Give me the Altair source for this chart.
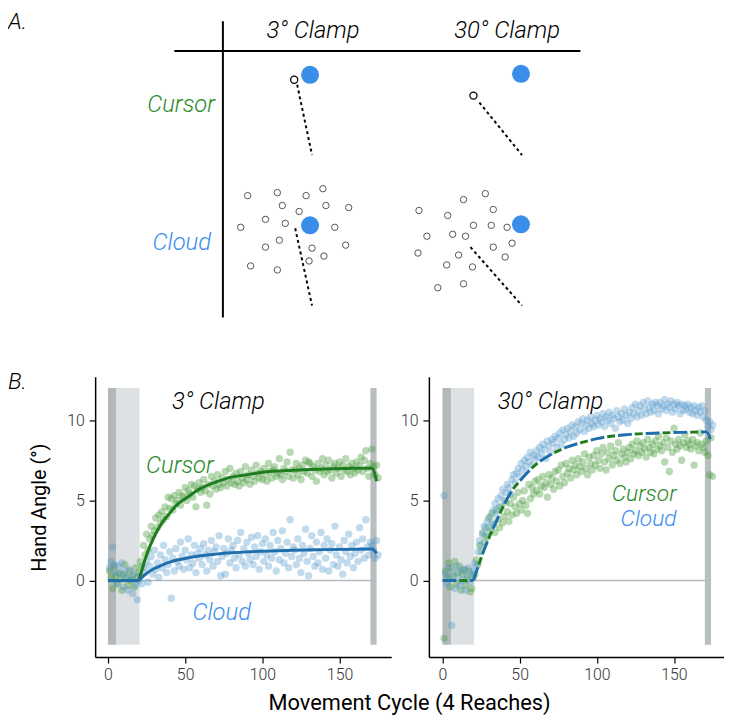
import altair as alt
import pandas as pd

FONT = "Roboto"

# ---------------- Panel B data (hand angle per movement cycle) ----------------
cycles = list(range(1, 176))

cursor3 = [0.6, 0.2, -0.5, 0.9, 0.3, -0.2, 0.5, 0.1, -0.6, 0.4, 1.0, 0.2, -0.3, 0.6, 0.0, 0.3, -0.4, 0.8, 0.2, 0.5,
           1.2, 0.9, 2.2, 1.6, 2.9, 1.9, 2.6, 3.4, 2.8, 3.1, 3.9, 3.3, 4.1, 3.6, 4.3, 3.8, 4.6, 4.0, 5.2, 4.5,
           5.1, 4.4, 5.3, 4.8, 5.0, 5.5, 4.7, 5.3, 5.2, 5.8, 5.0, 5.6, 5.4, 6.0, 5.2, 5.9, 4.6, 5.7, 6.1, 5.5,
           5.8, 6.3, 5.6, 4.7, 6.0, 5.4, 6.5, 5.9, 6.2, 5.7, 6.6, 6.0, 5.8, 6.4, 6.1, 6.8, 5.9, 6.3, 7.0, 6.1,
           6.5, 6.0, 6.7, 6.2, 5.9, 6.8, 6.4, 6.1, 7.1, 6.3, 6.6, 6.0, 6.9, 6.5, 6.2, 7.2, 6.7, 6.4, 6.8, 6.3,
           7.0, 6.6, 6.2, 7.3, 6.8, 6.4, 6.9, 7.1, 6.5, 6.7, 7.6, 6.6, 6.3, 7.0, 6.8, 7.4, 6.5, 8.0, 6.9, 6.4,
           6.9, 7.3, 6.6, 7.0, 6.3, 7.2, 6.8, 7.5, 6.7, 7.4, 7.3, 6.5, 7.1, 6.9, 6.2, 7.3, 6.8, 7.0, 7.6, 6.6,
           7.2, 6.8, 7.5, 6.9, 6.4, 7.1, 7.3, 6.7, 7.0, 7.4, 6.5, 7.2, 6.9, 7.6, 6.8, 7.1, 6.6, 7.3, 7.0, 6.7,
           7.4, 6.9, 7.2, 7.7, 6.8, 7.5, 8.1, 7.0, 6.5, 7.3, 8.2, 7.1, 6.6, 7.2, 6.4]

cloud3 = [0.8, 1.2, 2.1, 1.0, 0.5, -0.2, 0.9, 0.4, 1.1, -0.4, 0.6, 0.2, -0.6, 0.7, 0.1, -0.8, 0.4, -0.3, -1.2, 0.0,
          0.3, -0.2, 0.8, 0.5, 1.2, -0.1, 0.9, 1.5, 0.4, 1.9, 0.7, 1.1, 0.2, 1.6, 0.8, 2.2, 1.3, 0.5, 1.0, 1.8,
          -1.1, 1.4, 0.6, 2.0, 1.2, 0.9, 2.4, 1.5, 0.7, 1.9, 1.3, 2.6, 0.8, 1.6, 1.1, 2.2, 0.5, 1.7, 1.4, 2.0,
          1.0, 2.3, 1.6, 0.6, 1.9, 1.3, 2.5, 0.9, 1.8, 2.1, 1.2, 2.8, 0.3, 1.5, 2.0, 0.4, 1.7, 2.6, 1.1, 1.9,
          2.2, 1.4, 0.8, 2.5, 1.6, 3.0, 1.2, 2.0, 0.9, 2.4, 1.7, 1.3, 2.7, 1.0, 2.1, 1.5, 2.8, 0.7, 1.8, 2.3,
          1.2, 2.6, 1.6, 0.9, 2.2, 1.4, 3.0, 1.8, 0.6, 2.5, 1.3, 2.0, 3.1, 1.1, 1.7, 2.4, 0.8, 3.8, 1.5, 2.1,
          1.9, 1.0, 2.6, 1.4, 0.5, 2.2, 1.7, 3.2, 1.2, 0.3, 2.0, 2.8, 1.5, 0.9, 2.4, 1.1, 1.8, 3.0, 0.7, 2.2,
          1.4, 2.6, 0.6, 1.9, 2.3, 1.0, 3.4, 1.6, 0.9, 2.1, 1.3, 0.4, 2.5, 1.8, 1.1, 2.9, 1.5, 2.2, 0.8, 1.7,
          2.4, 1.2, 3.3, 1.9, 2.6, 1.4, 3.8, 2.1, 1.6, 2.4, 2.2, 1.9, 1.4, 2.5, 1.6]

cursor30 = [-3.6, 0.6, 0.2, 1.1, -0.4, 0.8, 0.3, 1.2, -0.2, 0.5, 0.9, -0.6, 0.4, 0.7, -0.3, 0.1, 0.6, -0.7, -0.5, 0.2,
            0.4, 1.3, 1.0, 2.2, 1.8, 2.9, 2.4, 3.3, 2.7, 3.9, 3.1, 4.2, 3.5, 3.0, 4.4, 3.8, 3.3, 4.6, 3.6, 4.0,
            4.9, 4.3, 3.7, 4.8, 4.1, 5.2, 4.6, 4.2, 5.5, 4.8, 4.4, 5.0, 5.6, 4.7, 4.2, 6.0, 5.1, 5.8, 5.4, 6.2,
            5.6, 6.3, 5.4, 5.9, 6.5, 5.8, 6.1, 5.2, 6.6, 6.0, 6.4, 5.7, 6.8, 6.2, 6.9, 5.9, 7.2, 6.5, 6.1, 7.3,
            6.7, 7.0, 6.4, 7.5, 6.9, 7.2, 6.6, 7.6, 7.1, 6.8, 7.4, 7.9, 7.0, 6.6, 7.7, 7.3, 6.9, 7.8, 7.2, 8.1,
            7.5, 7.0, 7.9, 8.3, 7.4, 6.9, 8.0, 7.6, 8.4, 7.2, 7.8, 8.1, 7.5, 8.6, 7.3, 7.9, 8.2, 7.7, 7.4, 8.0,
            8.3, 7.6, 8.5, 7.9, 8.1, 8.7, 7.8, 8.4, 8.0, 8.6, 8.2, 7.7, 8.8, 8.3, 8.0, 8.5, 7.9, 8.7, 8.2, 9.0,
            8.4, 8.1, 8.6, 7.4, 8.9, 8.3, 6.8, 8.7, 8.0, 9.5, 8.5, 8.2, 8.8, 8.4, 7.5, 8.6, 9.1, 8.3, 8.7, 8.5,
            8.2, 8.8, 7.2, 8.4, 8.6, 8.1, 9.2, 8.5, 8.3, 8.0, 8.7, 7.8, 6.6, 8.9, 6.5]

cloud30 = [5.3, 0.4, -0.2, 0.8, 0.1, -2.8, 0.5, -0.5, 0.9, 0.2, -0.3, 0.6, 0.0, 0.7, -0.6, 0.3, 0.8, -0.1, 0.4, 0.6,
           1.1, 0.9, 1.8, 2.5, 2.2, 3.0, 3.4, 2.8, 3.7, 3.3, 4.0, 3.6, 4.4, 4.8, 4.2, 5.1, 4.6, 5.3, 5.7, 5.0,
           5.5, 6.0, 5.8, 5.4, 6.3, 6.6, 6.1, 6.7, 7.0, 6.5, 7.3, 6.9, 7.5, 7.1, 7.7, 7.4, 8.0, 7.2, 7.8, 7.6,
           8.1, 7.7, 8.3, 7.9, 8.5, 8.2, 7.6, 8.7, 8.4, 8.0, 8.8, 8.6, 9.0, 8.3, 8.9, 9.2, 8.5, 9.4, 8.8, 9.1,
           9.5, 8.9, 9.3, 9.7, 9.0, 9.6, 9.2, 9.9, 9.4, 9.8, 10.1, 9.3, 9.7, 10.0, 9.5, 10.2, 9.8, 9.6, 10.0, 10.3,
           9.7, 10.1, 9.9, 10.4, 9.6, 10.2, 10.0, 10.5, 9.8, 10.3, 10.1, 9.5, 10.6, 10.2, 9.9, 10.4, 10.0, 10.7, 10.3, 9.8,
           10.5, 10.1, 10.8, 10.4, 11.0, 10.2, 10.6, 10.9, 10.3, 11.1, 10.7, 10.4, 11.2, 10.8, 10.5, 11.0, 10.6, 11.1, 10.9, 10.4,
           11.1, 10.7, 10.9, 11.3, 10.6, 11.0, 10.8, 11.2, 10.5, 11.0, 10.7, 11.1, 10.9, 10.4, 11.0, 10.6, 10.9, 10.7, 11.0, 10.5,
           10.8, 10.4, 10.9, 10.6, 10.3, 10.8, 10.5, 10.9, 10.2, 10.6, 10.0, 9.6, 9.9, 9.4, 9.7]

# fitted curves (read at sample cycles)
fit_x = [20, 25, 30, 35, 40, 45, 50, 60, 70, 80, 90, 100, 120, 140, 160, 171, 174]
fit_cursor3 = [0, 1.6, 2.75, 3.6, 4.2, 4.75, 5.1, 5.75, 6.15, 6.45, 6.6, 6.75, 6.88, 6.95, 7.0, 7.0, 6.2]
fit_cloud3 = [0, 0.45, 0.75, 0.97, 1.15, 1.28, 1.38, 1.55, 1.65, 1.73, 1.79, 1.83, 1.89, 1.93, 1.96, 1.97, 1.7]
fit_30 = [0, 1.4, 2.65, 3.7, 4.75, 5.6, 6.2, 7.2, 7.85, 8.3, 8.6, 8.85, 9.1, 9.2, 9.25, 9.27, 8.7]
base_x = [0, 20]
base_y = [0, 0]

# shaded phases: (start, end, colour)
band_x0 = [0, 5.5, 170]
band_x1 = [5.5, 20.5, 174]
band_col = ["#b3b8bb", "#dee1e3", "#b9bec1"]
band_y0, band_y1 = -4, 12

# ---------------- Panel A schematic data ----------------
cloud3_x = [250, 280, 309, 326, 285, 302, 329, 352, 268, 288, 243, 338, 282, 268, 315, 349, 327, 312, 253, 280]
cloud3_y = [194, 191, 194, 187, 204, 210, 204, 206, 218, 222, 226, 226, 239, 246, 247, 244, 255, 260, 265, 269]
cloud30_x = [490, 468, 498, 423, 452, 478, 496, 512, 431, 457, 470, 517, 498, 422, 463, 510, 451, 477, 468, 442]
cloud30_y = [192, 198, 208, 209, 214, 224, 224, 226, 235, 233, 235, 242, 246, 252, 254, 256, 264, 266, 283, 287]
target_x = [313, 526, 313, 526]
target_y = [72, 71, 224, 223]
cursor_x = [297, 478]
cursor_y = [77, 93]
reach_x0 = [300, 484, 298, 475]
reach_y0 = [82, 100, 227, 246]
reach_x1 = [315, 527, 315, 527]
reach_y1 = [153, 153, 305, 305]
frame_x0 = [176, 225]
frame_y0 = [48, 18]
frame_x1 = [586, 225]
frame_y1 = [48, 317]

GREEN_TXT = "#2a8a2a"
BLUE_TXT = "#3a8ef0"
GREEN_PT = "#4a9e3f"
BLUE_PT = "#4e96c8"
GREEN_LN = "#1e7d1e"
BLUE_LN = "#1f6fad"
TARGET = "#3a8de9"

# ---------------- Panel A ----------------
ax_s = alt.Scale(domain=[96, 596], nice=False, zero=False)
ay_s = alt.Scale(domain=[8, 338], nice=False, zero=False, reverse=True)


def ax(f):
    return alt.X(f, type="quantitative", scale=ax_s, axis=None)


def ay(f):
    return alt.Y(f, type="quantitative", scale=ay_s, axis=None)


frame_df = pd.DataFrame({"x0": frame_x0, "y0": frame_y0, "x1": frame_x1, "y1": frame_y1})
reach_df = pd.DataFrame({"x0": reach_x0, "y0": reach_y0, "x1": reach_x1, "y1": reach_y1})
cloud_df = pd.DataFrame({"x": cloud3_x + cloud30_x, "y": cloud3_y + cloud30_y})
target_df = pd.DataFrame({"x": target_x, "y": target_y})
cursor_df = pd.DataFrame({"x": cursor_x, "y": cursor_y})

frame = alt.Chart(frame_df).mark_rule(color="black", strokeWidth=2).encode(
    x=ax("x0"), y=ay("y0"), x2="x1", y2="y1")
reach = alt.Chart(reach_df).mark_rule(color="black", strokeWidth=2, strokeDash=[3, 3]).encode(
    x=ax("x0"), y=ay("y0"), x2="x1", y2="y1")
clouds = alt.Chart(cloud_df).mark_point(shape="circle", filled=False, color="#555555",
                                         strokeWidth=1, size=42, opacity=1).encode(x=ax("x"), y=ay("y"))
targets = alt.Chart(target_df).mark_circle(color=TARGET, size=330, opacity=1).encode(x=ax("x"), y=ay("y"))
cursors = alt.Chart(cursor_df).mark_point(shape="circle", filled=False, color="black",
                                           strokeWidth=1.3, size=52, opacity=1).encode(x=ax("x"), y=ay("y"))


def a_text(text, x, y, color="black", align="center", size=24, style="italic", baseline="middle"):
    df = pd.DataFrame({"x": [x], "y": [y], "t": [text]})
    return alt.Chart(df).mark_text(align=align, baseline=baseline, font=FONT, fontSize=size,
                                   fontStyle=style, fontWeight=300, color=color).encode(
        x=ax("x"), y=ay("y"), text="t:N")


panel_a = alt.layer(
    frame, reach, clouds, targets, cursors,
    a_text("A.", 8, 8, align="left", size=23, baseline="top"),
    a_text("B.", 8, 371, align="left", size=23, baseline="top"),
    a_text("3° Clamp", 316, 28),
    a_text("30° Clamp", 512, 28),
    a_text("Cursor", 217, 103, color=GREEN_TXT, align="right"),
    a_text("Cloud", 213, 242, color=BLUE_TXT, align="right"),
).properties(width=500, height=330)

# ---------------- Panel B ----------------
y_s = alt.Scale(domain=[-4.77, 12.7], nice=False, zero=False)
y_axis = alt.Axis(values=[0, 5, 10], title=None, grid=False, labelPadding=5)


def b_panel(xdom, green, blue, fit_g, fit_b, dashed, texts, extra):
    x_s = alt.Scale(domain=xdom, nice=False, zero=False)
    x_axis = alt.Axis(values=[0, 50, 100, 150], title=None, grid=False, labelPadding=4)

    def X(f):
        return alt.X(f, type="quantitative", scale=x_s, axis=x_axis)

    def Y(f):
        return alt.Y(f, type="quantitative", scale=y_s, axis=y_axis)

    band_df = pd.DataFrame({"x0": band_x0, "x1": band_x1, "c": band_col,
                            "y0": [band_y0] * 3, "y1": [band_y1] * 3})
    bands = alt.Chart(band_df).mark_rect().encode(
        x=X("x0"), x2="x1", y=Y("y0"), y2="y1", color=alt.Color("c:N", scale=None))
    zero_df = pd.DataFrame({"x0": [0], "x1": [174], "y": [0]})
    zero = alt.Chart(zero_df).mark_rule(color="#b5bcbf", strokeWidth=1.5).encode(
        x=X("x0"), x2="x1", y=Y("y"))
    gdf = pd.DataFrame({"c": cycles, "v": green})
    bdf = pd.DataFrame({"c": cycles, "v": blue})
    gpts = alt.Chart(gdf).mark_circle(size=55, color=GREEN_PT, opacity=0.4).encode(x=X("c"), y=Y("v"))
    bpts = alt.Chart(bdf).mark_circle(size=55, color=BLUE_PT, opacity=0.35).encode(x=X("c"), y=Y("v"))

    def fit_df(vals):
        return pd.DataFrame({"c": base_x + fit_x, "v": base_y + vals,
                             "seg": ["a"] * len(base_x) + ["b"] * len(fit_x)})

    if dashed:
        bl = alt.Chart(fit_df(fit_b)).mark_line(color=BLUE_LN, strokeWidth=3, interpolate="monotone",
                                                strokeDash=[14, 14]).encode(
            x=X("c"), y=Y("v"), detail="seg:N")
        gl = alt.Chart(fit_df(fit_g)).mark_line(color=GREEN_LN, strokeWidth=3, interpolate="monotone",
                                                strokeDash=[8, 20], strokeDashOffset=11).encode(
            x=X("c"), y=Y("v"), detail="seg:N")
        lines = [gl, bl]
    else:
        gl = alt.Chart(fit_df(fit_g)).mark_line(color=GREEN_LN, strokeWidth=3, interpolate="monotone").encode(
            x=X("c"), y=Y("v"), detail="seg:N")
        bl = alt.Chart(fit_df(fit_b)).mark_line(color=BLUE_LN, strokeWidth=3, interpolate="monotone").encode(
            x=X("c"), y=Y("v"), detail="seg:N")
        lines = [gl, bl]

    text_layers = []
    for (t, x, y, col, al, sz) in texts:
        df = pd.DataFrame({"x": [x], "y": [y], "t": [t]})
        text_layers.append(alt.Chart(df).mark_text(align=al, baseline="middle", font=FONT, fontSize=sz,
                                                   fontStyle="italic", fontWeight=300, color=col).encode(
            x=X("x"), y=Y("y"), text="t:N"))
    return alt.layer(bands, zero, gpts, bpts, *lines, *text_layers, *extra).properties(width=299, height=283)


title_df = pd.DataFrame({"t": ["Hand Angle (°)"]})
ytitle = alt.Chart(title_df).mark_text(angle=270, font=FONT, fontSize=20, fontWeight=400, color="black",
                                       align="center", baseline="middle").encode(
    x=alt.value(-56), y=alt.value(132), text="t:N")
xt_df = pd.DataFrame({"t": ["Movement Cycle (4 Reaches)"]})
xtitle = alt.Chart(xt_df).mark_text(font=FONT, fontSize=22, fontWeight=400, color="black",
                                    align="center", baseline="middle").encode(
    x=alt.value(317.5), y=alt.value(329), text="t:N")

left = b_panel([-8.3, 183.5], cursor3, cloud3, fit_cursor3, fit_cloud3, False,
               [("3° Clamp", 71.5, 11.15, "black", "center", 24),
                ("Cursor", 46.6, 7.16, GREEN_TXT, "center", 24),
                ("Cloud", 73.7, -2.0, BLUE_TXT, "center", 24)],
               [ytitle, xtitle])
right = b_panel([-8.8, 182.4], cursor30, cloud30, fit_30, fit_30, True,
                [("30° Clamp", 70, 11.15, "black", "center", 24),
                 ("Cursor", 151.7, 5.42, GREEN_TXT, "right", 23),
                 ("Cloud", 151.7, 3.85, BLUE_TXT, "right", 23)],
                []).properties(width=298)

panel_b = alt.hconcat(left, right, spacing=38, bounds="flush")

chart = alt.vconcat(panel_a, panel_b, spacing=39, bounds="flush").properties(padding=0).configure_view(
    stroke=None).configure_axis(
    domainColor="black", domainWidth=1.5, tickColor="black", tickWidth=1.2, tickSize=6,
    labelFont=FONT, labelFontSize=16, labelColor="#333333", labelFontWeight=300, grid=False)

chart.save("out.html", embed_options={"renderer": "svg", "actions": False})
